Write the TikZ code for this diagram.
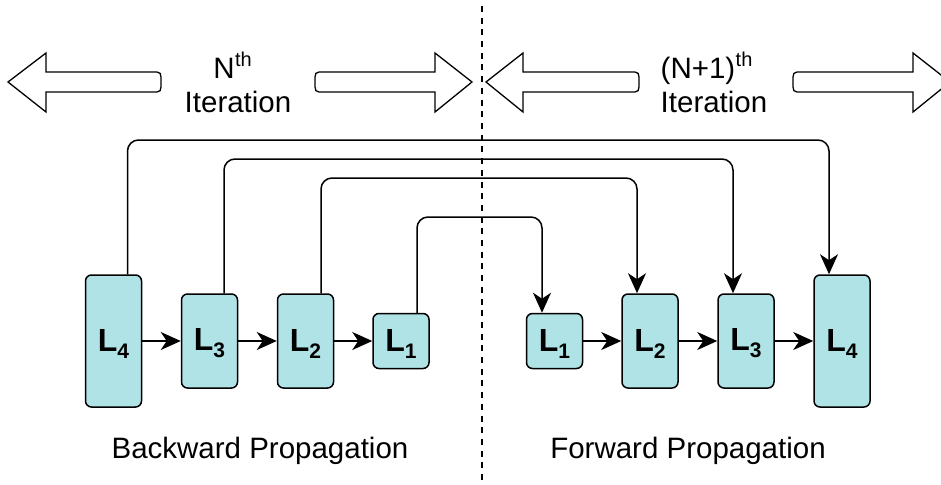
\documentclass[tikz,border=0pt]{standalone}
\usepackage{fontspec}
\setmainfont{Liberation Sans}
\usetikzlibrary{arrows.meta}
\definecolor{boxfill}{RGB}{176,227,230}
% bold layer label with a lowered index
\newcommand{\layerlabel}[1]{\rule{0pt}{27pt}L\raisebox{-7pt}{\fontsize{21}{21}\selectfont #1}}
\tikzset{
  headtip/.tip={Stealth[length=20pt,width=18pt,inset=6pt]}
}
\begin{document}
\begin{tikzpicture}[x=1pt,y=-1pt,
  layer/.style={draw=black, line width=1.5pt, fill=boxfill, rounded corners=6pt,
    minimum width=56pt, inner sep=0pt,
    font=\fontsize{32}{32}\selectfont\bfseries},
  tall/.style={layer, minimum height=132pt},
  mid/.style={layer, minimum height=94pt},
  short/.style={layer, minimum height=55pt},
  conn/.style={line width=1.5pt, -headtip},
  skip/.style={conn, rounded corners=11pt},
  blockarrow/.style={draw=black, fill=white, line width=1.3pt, line join=miter},
  label/.style={font=\fontsize{29.5}{34}\selectfont, anchor=base, inner sep=0pt},
  sup/.style={font=\fontsize{20}{20}\selectfont, anchor=base west, inner sep=0pt},
  divider/.style={line width=1.6pt, dash pattern=on 6pt off 5.7pt}]

\clip (0,0) rectangle (941,484);

% divider between the two iterations
\draw[divider] (482,6) -- (482,484);

% block arrows spanning each iteration
\draw[blockarrow] (8,82) -- (46,53) -- (46,72) -- (157,72)
  .. controls (160,72) and (161,74) .. (161,77) -- (161,87)
  .. controls (161,90) and (160,92) .. (157,92) -- (46,92) -- (46,112) -- cycle;
\draw[blockarrow] (472,82) -- (435,53) -- (435,72) -- (319,72)
  .. controls (316,72) and (315,74) .. (315,77) -- (315,87)
  .. controls (315,90) and (316,92) .. (319,92) -- (435,92) -- (435,112) -- cycle;
\draw[blockarrow] (486,82) -- (523,53) -- (523,72) -- (635,72)
  .. controls (638,72) and (639,74) .. (639,77) -- (639,87)
  .. controls (639,90) and (638,92) .. (635,92) -- (523,92) -- (523,112) -- cycle;
\draw[blockarrow] (950,82) -- (913,53) -- (913,72) -- (797,72)
  .. controls (794,72) and (793,74) .. (793,77) -- (793,87)
  .. controls (793,90) and (794,92) .. (797,92) -- (913,92) -- (913,112) -- cycle;

% iteration titles
\node[label] (nit) at (224,79) {N};
\node[sup] (nsup) at (nit.base east) [yshift=12pt] {th};
\node[label] (nname) at (238,113) {Iteration};
\node[label] (mit) at (698,79) {(N+1)};
\node[sup] (msup) at (mit.base east) [yshift=12pt] {th};
\node[label] (mname) at (714,113) {Iteration};

% backward pass
\node[tall]  (b4) at (113.5,341) {\layerlabel{4}};
\node[mid]   (b3) at (209.5,341) {\layerlabel{3}};
\node[mid]   (b2) at (305.5,341) {\layerlabel{2}};
\node[short] (b1) at (401,341)   {\layerlabel{1}};

% forward pass
\node[short] (f1) at (554.5,341) {\layerlabel{1}};
\node[mid]   (f2) at (650,341)   {\layerlabel{2}};
\node[mid]   (f3) at (746,341)   {\layerlabel{3}};
\node[tall]  (f4) at (842,341)   {\layerlabel{4}};

\draw[conn] (b4) -- (b3);
\draw[conn] (b3) -- (b2);
\draw[conn] (b2) -- (b1);
\draw[conn] (f1) -- (f2);
\draw[conn] (f2) -- (f3);
\draw[conn] (f3) -- (f4);

% skip links from each backward layer to its forward twin
\coordinate (s4) at ([xshift=14pt]b4.north);
\coordinate (s3) at ([xshift=14.5pt]b3.north);
\coordinate (s2) at ([xshift=15.5pt]b2.north);
\coordinate (s1) at ([xshift=16pt]b1.north);
\coordinate (t4) at ([xshift=-13pt]f4.north);
\coordinate (t3) at ([xshift=-13pt]f3.north);
\coordinate (t2) at ([xshift=-13pt]f2.north);
\coordinate (t1) at ([xshift=-12.5pt]f1.north);
\coordinate (h4) at (0,140);
\coordinate (h3) at (0,159);
\coordinate (h2) at (0,178);
\coordinate (h1) at (0,217);
\draw[skip] (s4) -- (s4 |- h4) -- (t4 |- h4) -- (t4);
\draw[skip] (s3) -- (s3 |- h3) -- (t3 |- h3) -- (t3);
\draw[skip] (s2) -- (s2 |- h2) -- (t2 |- h2) -- (t2);
\draw[skip] (s1) -- (s1 |- h1) -- (t1 |- h1) -- (t1);

% pass names
\node[label] (bwd) at (260,458) {Backward Propagation};
\node[label] (fwd) at (688,458) {Forward Propagation};
\end{tikzpicture}
\end{document}
